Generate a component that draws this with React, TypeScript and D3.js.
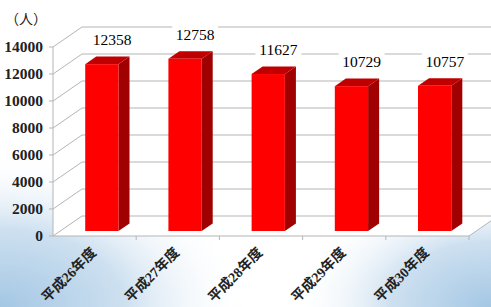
import React from "react";
import * as d3 from "d3";

// 年度別の人数
const categories = ["平成26年度", "平成27年度", "平成28年度", "平成29年度", "平成30年度"];
const values = [12358, 12758, 11627, 10729, 10757];
const yTicks = [0, 2000, 4000, 6000, 8000, 10000, 12000, 14000];

const W = 491;
const H = 307;
// 3D depth offset of the walls
const DX = 29;
const DY = -20;
const FRONT = 0.25; // bar front depth fraction
const DEPTH = 0.38; // bar depth fraction

const serif = "'Liberation Serif', 'Noto Sans CJK JP', serif";

export default function App() {
  const x = d3.scaleBand<string>().domain(categories).range([53, 469]).paddingInner(0.6).paddingOuter(0.3);
  const step = x.step();
  const bw = x.bandwidth();
  const y = d3.scaleLinear().domain([0, 14000]).range([236, 47]);
  const [x0, x1] = [53, 469];
  const y0 = y(0);
  const yTop = y(14000);

  const sideWall = `M${x0},${yTop}L${x0 + DX},${yTop + DY}L${x0 + DX},${y0 + DY}L${x0},${y0}Z`;
  const floor = `M${x0},${y0}L${x1},${y0}L${x1 + DX},${y0 + DY}L${x0 + DX},${y0 + DY}Z`;

  return (
    <svg width={W} height={H} style={{ position: "absolute", left: 0, top: 0 }}>
      <defs>
        <radialGradient id="bl" cx="0" cy={H} r="250" gradientUnits="userSpaceOnUse" gradientTransform={`translate(0 ${H}) scale(1 0.62) translate(0 ${-H})`}>
          <stop offset="0" stopColor="#a4c7e4" />
          <stop offset="0.5" stopColor="#cde0f0" />
          <stop offset="1" stopColor="#ffffff" stopOpacity="0" />
        </radialGradient>
        <radialGradient id="br" cx={W} cy={H} r="200" gradientUnits="userSpaceOnUse" gradientTransform={`translate(${W} ${H}) scale(1 0.65) translate(${-W} ${-H})`}>
          <stop offset="0" stopColor="#a4c7e4" />
          <stop offset="0.5" stopColor="#cde0f0" />
          <stop offset="1" stopColor="#ffffff" stopOpacity="0" />
        </radialGradient>
      </defs>
      <rect width={W} height={H} fill="#fff" />
      <rect width={W} height={H} fill="url(#bl)" />
      <rect width={W} height={H} fill="url(#br)" />

      {/* walls */}
      <rect x={x0 + DX} y={yTop + DY} width={W} height={y0 - yTop} fill="#fff" />
      <path d={sideWall} fill="#fff" />
      <path d={floor} fill="#fff" />

      {/* gridlines */}
      {yTicks.map((t) => (
        <g key={t} stroke="#b5b5b5" strokeWidth={1} fill="none">
          <line x1={x0 + DX} x2={W} y1={y(t) + DY} y2={y(t) + DY} />
          <line x1={x0} y1={y(t)} x2={x0 + DX} y2={y(t) + DY} />
          <line x1={x0 - 4} x2={x0} y1={y(t)} y2={y(t)} />
        </g>
      ))}
      <line x1={x0} x2={x0} y1={yTop} y2={y0} stroke="#b5b5b5" />
      <line x1={x0} x2={x1} y1={y0} y2={y0} stroke="#b5b5b5" />
      <line x1={x1} y1={y0} x2={x1 + DX} y2={y0 + DY} stroke="#b5b5b5" />
      {categories.map((c, i) => (
        <line key={c} x1={x0 + step * (i + 1)} x2={x0 + step * (i + 1)} y1={y0} y2={y0 + 4} stroke="#b5b5b5" />
      ))}

      {/* bars */}
      {categories.map((c, i) => {
        const v = values[i];
        const bx = (x(c) as number) + DX * FRONT;
        const top = y(v) + DY * FRONT;
        const bot = y0 + DY * FRONT;
        const dx = DX * DEPTH;
        const dy = DY * DEPTH;
        return (
          <g key={c}>
            <path d={`M${bx + bw},${top}L${bx + bw + dx},${top + dy}L${bx + bw + dx},${bot + dy}L${bx + bw},${bot}Z`} fill="#a00000" />
            <path d={`M${bx},${top}L${bx + dx},${top + dy}L${bx + bw + dx},${top + dy}L${bx + bw},${top}Z`} fill="#c00000" />
            <rect x={bx} y={top} width={bw} height={bot - top} fill="#ff0000" />
          </g>
        );
      })}

      {/* data labels */}
      {categories.map((c, i) => {
        const cx = (x(c) as number) + bw / 2 + DX * 0.6;
        const cy = y(values[i]) + DY * 0.6 - 17;
        return (
          <g key={c}>
            <rect x={cx - 23} y={cy - 10} width={46} height={20} fill="#fff" />
            <text x={cx} y={cy + 5} textAnchor="middle" fontFamily={serif} fontSize={15.5} fill="#000">
              {values[i]}
            </text>
          </g>
        );
      })}

      {/* y axis labels */}
      {yTicks.map((t) => (
        <text key={t} x={43} y={y(t) + 5} textAnchor="end" fontFamily={serif} fontWeight="bold" fontSize={15.5} fill="#222">
          {t}
        </text>
      ))}

      {/* x axis labels */}
      {categories.map((c) => {
        const cx = (x(c) as number) + bw / 2 - 1;
        const cy = 250;
        return (
          <text key={c} x={cx} y={cy} transform={`rotate(-45 ${cx} ${cy})`} textAnchor="end" dy="0.35em" fontFamily={serif} fontWeight="bold" fontSize={14} fill="#222">
            {c}
          </text>
        );
      })}

      <text x={5} y={24} fontFamily={serif} fontSize={14} fill="#222">（人）</text>
    </svg>
  );
}
